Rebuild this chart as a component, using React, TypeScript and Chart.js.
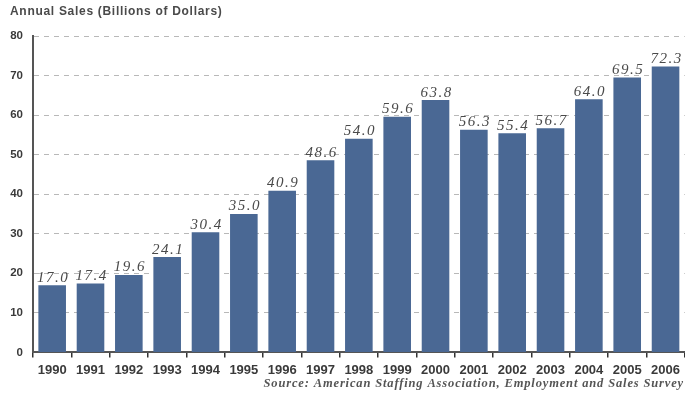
import React, { useEffect, useRef } from "react";
import { Chart, registerables } from "chart.js";

Chart.register(...registerables);

const years = ["1990","1991","1992","1993","1994","1995","1996","1997","1998","1999","2000","2001","2002","2003","2004","2005","2006"];
const sales = [17.0,17.4,19.6,24.1,30.4,35.0,40.9,48.6,54.0,59.6,63.8,56.3,55.4,56.7,64.0,69.5,72.3];
const yTicks = [0,10,20,30,40,50,60,70,80];
const titleText = "Annual Sales (Billions of Dollars)";
const sourceText = "Source: American Staffing Association, Employment and Sales Survey";

const BAR_COLOR = "#4a6894";
const TEXT = "#3a3a3a";

const labelPlugin = {
  id: "annotations",
  afterDatasetsDraw(chart: any) {
    const ctx = chart.ctx;
    const meta = chart.getDatasetMeta(0);
    ctx.save();
    ctx.font = 'italic 15px "Liberation Serif", "DejaVu Serif", serif';
    ctx.fillStyle = "#4a4a4a";
    ctx.textAlign = "center";
    ctx.textBaseline = "bottom";
    (ctx as any).letterSpacing = "1.5px";
    meta.data.forEach((bar: any, i: number) => {
      ctx.fillText(sales[i].toFixed(1), bar.x + 1, bar.y);
    });
    ctx.restore();
  },
  afterDraw(chart: any) {
    const ctx = chart.ctx;
    ctx.save();
    (ctx as any).letterSpacing = "0.7px";
    ctx.font = 'bold 12px "Liberation Sans", Arial, sans-serif';
    ctx.fillStyle = "#4a4a4a";
    ctx.textAlign = "left";
    ctx.textBaseline = "middle";
    ctx.fillText(titleText, 10, 12);
    ctx.font = 'bold italic 12.5px "Liberation Serif", "DejaVu Serif", serif';
    ctx.fillStyle = "#555";
    ctx.textAlign = "right";
    (ctx as any).letterSpacing = "0.85px";
    ctx.fillText(sourceText, 684, 384);
    ctx.restore();
  },
};

export default function App() {
  const ref = useRef<HTMLCanvasElement | null>(null);
  useEffect(() => {
    if (!ref.current) return;
    const chart = new Chart(ref.current, {
      type: "bar",
      data: {
        labels: years,
        datasets: [
          {
            data: sales,
            backgroundColor: BAR_COLOR,
            barPercentage: 0.72,
            categoryPercentage: 1,
          },
        ],
      },
      options: {
        animation: false,
        responsive: false,
        layout: { padding: { top: 36, bottom: 10, left: 0, right: 0 } },
        plugins: { legend: { display: false }, tooltip: { enabled: false }, title: { display: false } },
        scales: {
          x: {
            offset: true,
            grid: { display: true, offset: true, drawOnChartArea: false, drawTicks: true, tickLength: 5, color: "#333", lineWidth: 1.5 },
            border: { display: true, color: "#555", width: 2 },
            ticks: {
              color: TEXT,
              font: { family: '"Liberation Sans", Arial, sans-serif', size: 13, weight: "bold" },
              padding: 5,
              maxRotation: 0,
              autoSkip: false,
            },
          },
          y: {
            min: 0,
            max: 80,
            afterBuildTicks: (scale: any) => {
              scale.ticks = yTicks.map((v) => ({ value: v }));
            },
            afterFit: (scale: any) => {
              scale.width = 33;
            },
            grid: { color: "#b8b8b8", lineWidth: 1, drawTicks: false },
            border: { display: true, color: "#555", width: 2, dash: [5, 5] },
            ticks: {
              color: TEXT,
              font: { family: '"Liberation Sans", Arial, sans-serif', size: 11.5, weight: "bold" },
              padding: 10,
            },
          },
        },
      },
      plugins: [labelPlugin],
    });
    return () => chart.destroy();
  }, []);
  return (
    <div style={{ position: "absolute", left: 0, top: 0, width: 685, height: 393, background: "#fff" }}>
      <canvas ref={ref} width={685} height={393} />
    </div>
  );
}
